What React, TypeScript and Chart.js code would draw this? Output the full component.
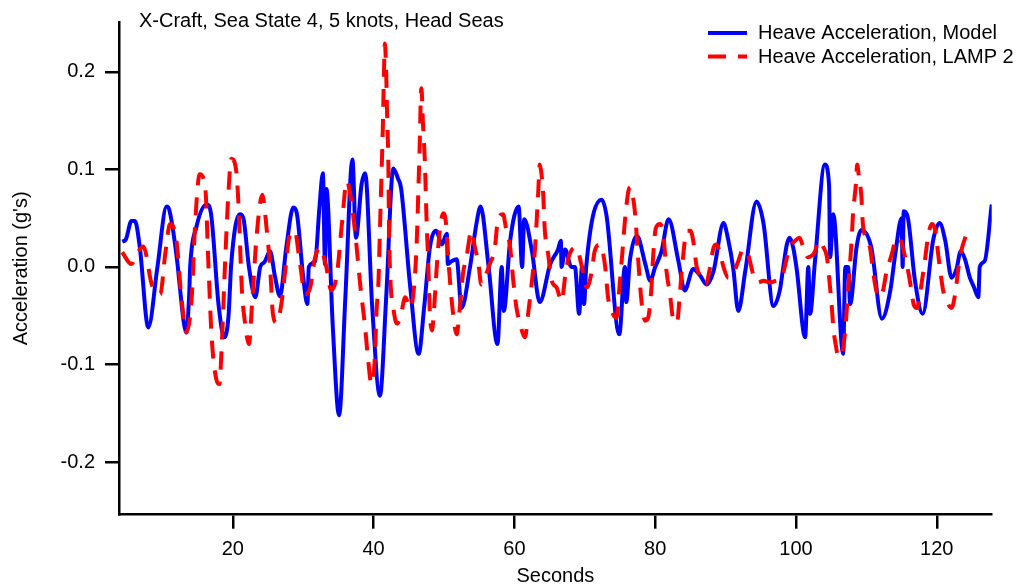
import React, { useEffect, useRef } from "react";
import { Chart, registerables } from "chart.js";

Chart.register(...registerables);

const chartTitle = "X-Craft, Sea State 4, 5 knots, Head Seas";
const seriesNames = ["Heave Acceleration, Model", "Heave Acceleration, LAMP 2"];
const xTitle = "Seconds";
const yTitle = "Acceleration (g's)";
const xTicks = [20, 40, 60, 80, 100, 120];
const yTicks = [-0.2, -0.1, 0, 0.1, 0.2];
const X_MIN = 3.84;
const X_MAX = 127.8;
const Y_MIN = -0.2538;
const Y_MAX = 0.251;

const modelTime = [
  4.3, 4.8, 5.6, 6.1, 6.8, 8.0, 9.3, 10.6, 11.0, 12.2, 12.4, 13.4, 13.8, 13.95, 14.8, 16.3, 16.9, 18.0, 18.8, 19.4,
  19.6, 19.75, 21.0, 21.5, 22.3, 23.2, 23.9, 24.5, 25.3, 26.0, 26.7, 27.6, 28.6, 29.1, 30.0, 30.6, 30.8, 31.7, 32.3, 32.8,
  33.1, 33.3, 34.2, 35.1, 36.0, 37.0, 37.5, 38.3, 38.8, 39.8, 40.9, 41.8, 42.8, 43.5, 43.9, 45.2, 46.4, 47.2, 48.0, 48.9,
  49.7, 50.4, 50.55, 51.1, 51.8, 52.5, 53.7, 54.6, 55.2, 56.3, 57.6, 58.2, 58.5, 59.4, 60.6, 61.1, 61.4, 62.5, 63.6, 65.1,
  66.2, 66.6, 66.7, 67.2, 68.1, 68.6, 69.2, 69.6, 69.9, 70.2, 72.4, 73.1, 74.9, 75.7, 75.9, 76.4, 77.4, 78.6, 79.3, 80.0,
  80.9, 81.9, 83.3, 84.2, 85.4, 86.4, 87.3, 88.3, 89.7, 90.4, 91.1, 91.8, 92.8, 94.4, 95.4, 96.8, 97.7, 98.2, 98.7, 99.1,
  99.6, 100.1, 101.3, 101.75, 102.0, 102.7, 104.1, 104.7, 104.85, 105.3, 106.7, 107.0, 107.4, 107.7, 108.6, 109.3, 110.7, 112.2, 113.4, 114.1,
  115.0, 115.15, 115.3, 115.9, 116.9, 118.0, 119.5, 120.4, 121.2, 122.1, 122.8, 123.4, 124.0, 124.7, 125.3, 125.9, 126.1, 126.8, 127.8,
];
const modelAccel = [
  0.026, 0.028, 0.047, 0.047, 0.02, -0.062, 0.0, 0.062, 0.058, 0.0, -0.015, -0.067, -0.03, 0.0, 0.04, 0.064, 0.055, -0.04, -0.072, -0.05,
  -0.022, 0.0, 0.054, 0.05, 0.0, -0.031, 0.0, 0.005, 0.016, -0.01, -0.03, 0.02, 0.061, 0.055, -0.01, -0.038, 0.0, 0.006, 0.06, 0.096,
  0.003, 0.08, -0.06, -0.152, -0.03, 0.11, 0.03, 0.085, 0.096, -0.04, -0.132, -0.03, 0.101, 0.09, 0.081, -0.02, -0.089, -0.04, 0.02, 0.037,
  0.023, 0.034, 0.003, 0.006, 0.008, -0.042, 0.0, 0.044, 0.062, 0.003, -0.079, 0.0, -0.045, 0.027, 0.062, 0.0, 0.049, 0.016, -0.036, 0.003,
  0.018, 0.027, 0.0, 0.018, 0.0, 0.0, -0.048, 0.0, -0.038, 0.0, 0.069, 0.052, -0.069, 0.0, -0.036, 0.006, 0.032, 0.003, -0.014, 0.0,
  0.016, 0.049, 0.006, -0.024, -0.002, -0.009, -0.018, -0.004, 0.045, 0.027, -0.002, -0.045, -0.004, 0.067, 0.044, -0.04, -0.024, 0.0, 0.023, 0.03,
  0.02, -0.002, -0.072, 0.0, -0.048, 0.006, 0.105, 0.084, 0.01, 0.054, -0.089, 0.0, 0.0, -0.038, 0.02, 0.038, 0.02, -0.053, -0.024, 0.013,
  0.05, 0.0, 0.057, 0.05, -0.014, -0.048, 0.028, 0.045, 0.027, -0.011, -0.002, 0.016, 0.008, -0.011, -0.021, -0.031, 0.0, 0.006, 0.064,
];

const lampTime = [
  4.3, 5.6, 6.5, 7.3, 8.5, 9.7, 10.4, 11.1, 12.0, 12.7, 13.4, 14.2, 14.6, 15.3, 16.1, 16.5, 17.0, 17.7, 18.1, 18.4,
  18.9, 19.4, 19.8, 20.5, 20.8, 21.3, 21.7, 22.3, 22.7, 23.4, 24.2, 24.8, 25.3, 25.7, 26.2, 26.9, 27.4, 28.1, 28.8, 29.5,
  30.3, 31.0, 31.7, 32.4, 33.2, 34.0, 34.8, 35.5, 36.2, 36.9, 37.5, 38.1, 38.8, 39.2, 39.7, 40.2, 40.4, 40.7, 40.9, 41.1,
  41.3, 41.4, 41.5, 41.6, 41.8, 41.9, 42.1, 42.2, 42.4, 42.8, 43.3, 43.8, 44.5, 45.2, 45.6, 46.1, 46.4, 46.6, 46.7, 46.8,
  47.0, 47.3, 47.5, 47.8, 48.0, 48.3, 48.6, 49.0, 49.4, 49.9, 50.3, 50.6, 50.9, 51.3, 51.8, 52.3, 52.7, 53.2, 53.9, 54.4,
  54.9, 55.3, 55.8, 56.5, 57.2, 57.7, 58.4, 58.8, 59.4, 59.8, 60.3, 60.7, 61.5, 62.0, 62.5, 62.9, 63.4, 63.6, 63.8, 64.1,
  64.3, 64.8, 65.3, 66.0, 66.7, 67.2, 67.7, 68.8, 69.6, 70.3, 71.0, 71.4, 72.2, 72.9, 73.3, 74.0, 74.5, 75.0, 75.4, 75.7,
  76.2, 76.5, 77.0, 77.2, 77.6, 78.1, 78.6, 79.0, 79.5, 79.7, 80.1, 80.7, 81.2, 81.6, 82.1, 82.6, 83.1, 83.5, 83.9, 84.5,
  85.0, 85.4, 85.9, 86.4, 87.2, 87.7, 88.3, 88.7, 89.2, 89.7, 90.4, 91.1, 91.8, 92.5, 93.2, 93.9, 94.6, 95.4, 96.3, 97.2,
  98.0, 98.4, 99.1, 99.9, 100.5, 101.0, 101.7, 102.7, 103.2, 103.9, 104.4, 104.8, 105.1, 105.3, 105.7, 106.0, 106.5, 107.0, 107.2, 107.6,
  107.9, 108.1, 108.5, 108.7, 108.9, 109.3, 109.5, 110.0, 110.5, 111.0, 111.4, 111.9, 112.4, 112.8, 113.3, 113.6, 114.1, 114.5, 115.0, 115.5,
  116.0, 116.4, 116.7, 117.2, 117.6, 117.9, 118.3, 118.8, 119.3, 119.8, 120.2, 120.5, 120.9, 121.4, 122.1, 122.6, 123.1, 123.6, 124.2,
];
const lampAccel = [
  0.015, 0.003, 0.015, 0.021, -0.018, -0.028, 0.013, 0.044, 0.027, -0.031, -0.067, -0.028, 0.037, 0.095, 0.081, 0.01, -0.072, -0.116, -0.12, -0.086,
  0.003, 0.078, 0.111, 0.098, 0.066, -0.024, -0.055, -0.079, -0.042, 0.033, 0.074, 0.04, 0.0, -0.048, -0.057, -0.038, -0.007, 0.033, 0.037, 0.006,
  -0.028, -0.021, 0.01, 0.02, 0.003, -0.024, -0.007, 0.044, 0.088, 0.064, 0.027, -0.018, -0.062, -0.093, -0.12, -0.09, -0.048, -0.014, 0.037, 0.088,
  0.139, 0.173, 0.207, 0.229, 0.197, 0.163, 0.105, 0.037, -0.014, -0.042, -0.058, -0.052, -0.031, -0.042, -0.031, 0.02, 0.088, 0.139, 0.173, 0.183,
  0.149, 0.105, 0.054, -0.004, -0.048, -0.065, -0.042, 0.003, 0.037, 0.055, 0.044, 0.01, -0.018, -0.048, -0.069, -0.038, -0.007, 0.01, 0.037, 0.02,
  0.003, -0.018, -0.011, 0.003, 0.018, 0.05, 0.054, 0.04, 0.02, -0.011, -0.042, -0.055, -0.072, -0.045, -0.014, 0.016, 0.078, 0.105, 0.098, 0.074,
  0.04, 0.013, -0.014, -0.021, -0.035, -0.011, 0.01, 0.02, 0.0, -0.021, -0.004, 0.016, 0.023, 0.0, -0.031, -0.048, -0.052, -0.014, 0.02, 0.047,
  0.078, 0.082, 0.064, 0.05, 0.006, -0.038, -0.055, -0.052, -0.018, 0.01, 0.04, 0.044, 0.03, -0.004, -0.028, -0.055, -0.057, -0.028, 0.006, 0.037,
  0.037, 0.027, 0.0, -0.009, -0.018, -0.004, 0.02, 0.023, 0.015, 0.0, -0.011, -0.007, 0.006, 0.018, 0.013, -0.007, -0.016, -0.014, -0.016, -0.014,
  -0.011, 0.0, 0.02, 0.027, 0.03, 0.021, 0.01, 0.016, 0.027, 0.02, 0.01, -0.018, -0.042, -0.062, -0.082, -0.092, -0.089, -0.065, -0.045, -0.004,
  0.027, 0.054, 0.084, 0.105, 0.095, 0.071, 0.044, 0.03, 0.02, -0.007, -0.024, -0.031, -0.023, -0.007, 0.006, 0.013, 0.027, 0.03, 0.025, 0.01,
  -0.007, -0.024, -0.038, -0.042, -0.028, -0.014, 0.006, 0.033, 0.044, 0.037, 0.013, -0.004, -0.024, -0.035, -0.042, -0.028, 0.0, 0.02, 0.033,
];

const FONT = '"Liberation Sans", Arial, sans-serif';
const BLUE = "#0000ff";
const RED = "#ff0000";
const DASH = [18, 12];

const zip = (xs: number[], ys: number[]) => xs.map((x, i) => ({ x, y: ys[i] }));

const overlayPlugin = {
  id: "overlayText",
  afterDraw(chart: any) {
    const ctx = chart.ctx as CanvasRenderingContext2D;
    ctx.save();
    ctx.fillStyle = "#000";
    ctx.font = `20px ${FONT}`;
    ctx.textBaseline = "middle";
    ctx.textAlign = "left";
    ctx.fillText(chartTitle, 139, 21);
    // legend
    const rows = [
      { y: 33, color: BLUE, dash: [] as number[], text: seriesNames[0] },
      { y: 56.5, color: RED, dash: DASH, text: seriesNames[1] },
    ];
    rows.forEach((r) => {
      ctx.beginPath();
      ctx.setLineDash(r.dash);
      ctx.strokeStyle = r.color;
      ctx.lineWidth = 4;
      ctx.moveTo(708, r.y);
      ctx.lineTo(747, r.y);
      ctx.stroke();
      ctx.setLineDash([]);
      ctx.fillText(r.text, 758, r.y + 0.8);
    });
    ctx.restore();
  },
};

export default function App() {
  const ref = useRef<HTMLCanvasElement | null>(null);
  useEffect(() => {
    if (!ref.current) return;
    const axisCommon = {
      type: "linear" as const,
      grid: {
        display: true,
        drawOnChartArea: false,
        drawTicks: true,
        tickLength: 14,
        lineWidth: 2.5,
        color: "#000",
      },
      border: { display: true, color: "#000", width: 2.5 },
    };
    const chart = new Chart(ref.current, {
      type: "line",
      data: {
        datasets: [
          {
            label: seriesNames[1],
            data: zip(lampTime, lampAccel),
            borderColor: RED,
            backgroundColor: RED,
            borderWidth: 4,
            borderDash: DASH,
            pointRadius: 0,
            cubicInterpolationMode: "monotone",
            order: 0,
          },
          {
            label: seriesNames[0],
            data: zip(modelTime, modelAccel),
            borderColor: BLUE,
            backgroundColor: BLUE,
            borderWidth: 4,
            pointRadius: 0,
            cubicInterpolationMode: "monotone",
            order: 1,
          },
        ],
      },
      options: {
        responsive: false,
        animation: false,
        devicePixelRatio: 1,
        parsing: false as any,
        layout: { padding: { left: 0, top: 20, right: 30.3, bottom: 0 } },
        plugins: { legend: { display: false }, tooltip: { enabled: false }, title: { display: false } },
        scales: {
          x: {
            ...axisCommon,
            min: X_MIN,
            max: X_MAX,
            afterBuildTicks: (s: any) => {
              s.ticks = xTicks.map((v) => ({ value: v }));
            },
            afterFit: (s: any) => {
              s.height = 73.3;
            },
            ticks: {
              color: "#000",
              font: { family: FONT, size: 20 },
              padding: 9,
              maxRotation: 0,
              autoSkip: false,
              callback: (v: any) => String(v),
            },
            title: {
              display: true,
              text: xTitle,
              color: "#000",
              font: { family: FONT, size: 20 },
              padding: { top: 0, bottom: 0 },
            },
          },
          y: {
            ...axisCommon,
            min: Y_MIN,
            max: Y_MAX,
            afterBuildTicks: (s: any) => {
              s.ticks = yTicks.map((v) => ({ value: v }));
            },
            afterFit: (s: any) => {
              s.width = 119;
            },
            ticks: {
              color: "#000",
              font: { family: FONT, size: 20 },
              padding: 10,
              autoSkip: false,
              callback: (v: any) => Number(v).toFixed(1),
            },
            title: {
              display: true,
              text: yTitle,
              color: "#000",
              font: { family: FONT, size: 20 },
              padding: { top: 9, bottom: 0 },
            },
          },
        },
      } as any,
      plugins: [overlayPlugin],
    });
    return () => chart.destroy();
  }, []);
  return (
    <div style={{ position: "fixed", left: 0, top: 0, width: 1022, height: 588, background: "#fff" }}>
      <canvas ref={ref} width={1022} height={588} style={{ display: "block" }} />
    </div>
  );
}
